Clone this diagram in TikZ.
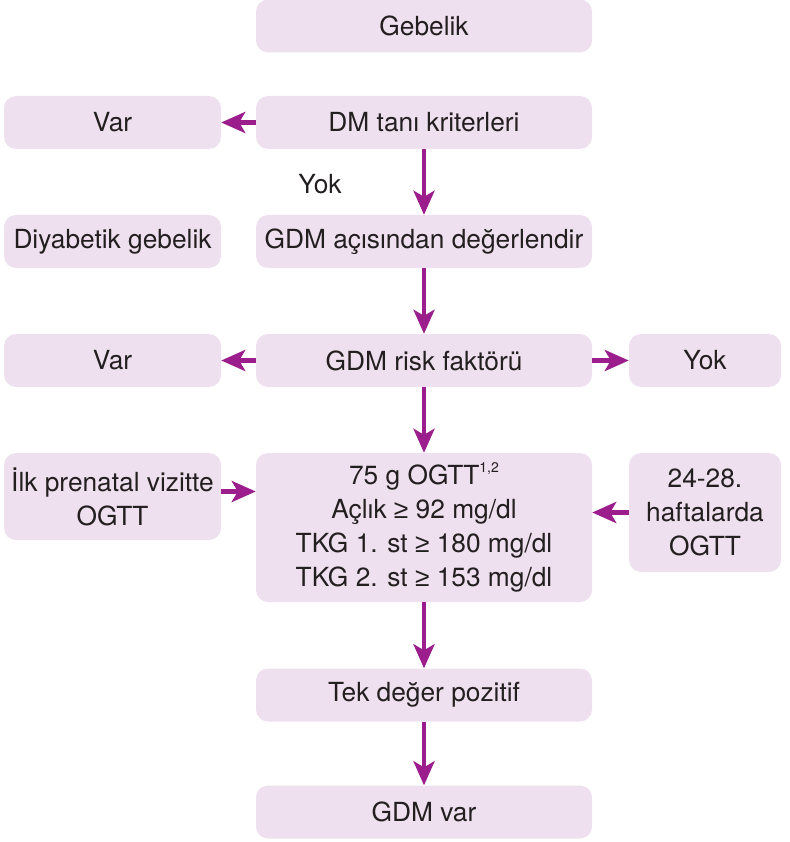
\documentclass[tikz,border=0pt]{standalone}
\usepackage{fontspec}
\setmainfont{TeX Gyre Heros}
\newfontfamily\symfont{Liberation Sans}
\usetikzlibrary{arrows.meta}
\definecolor{boxfill}{HTML}{EEE0EE}
\definecolor{arr}{HTML}{9C1E8C}
\definecolor{txt}{HTML}{231F20}
\newcommand{\gq}{{\symfont ≥}}
\tikzset{
 box/.style={fill=boxfill, rounded corners=12pt, inner sep=0pt, align=center,
   font=\fontsize{26.3}{34}\selectfont, text=txt},
 wide/.style={box, minimum width=336pt, minimum height=53pt},
 side/.style={box, minimum width=217pt, minimum height=53pt},
 conn/.style={draw=arr, line width=4.5pt, -{Stealth[length=24pt,width=21pt,inset=6pt]}},
}
\begin{document}
\begin{tikzpicture}[x=1pt,y=-1pt]
\useasboundingbox (0,0) rectangle (789,842);
\node[wide] (geb) at (424,26) {Gebelik};
\node[wide] (dm) at (424,122.5) {DM tanı kriterleri};
\node[side] (var1) at (112.5,122.5) {Var};
\node[font=\fontsize{26.3}{34}\selectfont, text=txt] (yok1) at (320,184) {Yok};
\node[side] (diy) at (112.5,241.5) {Diyabetik gebelik};
\node[wide] (gdm) at (424,241.5) {GDM açısından değerlendir};
\node[side] (var2) at (112.5,360.5) {Var};
\node[wide] (risk) at (424,360.5) {GDM risk faktörü};
\node[box, minimum width=152pt, minimum height=53pt] (yok2) at (705,360.5) {Yok};
\node[side, minimum height=87pt] (ilk) at (112.5,496.5) {İlk prenatal vizitte\\OGTT};
\node[wide, minimum height=149pt] (ogtt) at (424,527.5)
  {75 g OGTT\raisebox{0.45em}{\fontsize{14}{14}\selectfont 1,2}\\Açlık \gq{} 92 mg/dl\\TKG 1. st \gq{} 180 mg/dl\\TKG 2. st \gq{} 153 mg/dl};
\node[box, minimum width=152pt, minimum height=119pt] (haf) at (705,512.5) {24-28.\\haftalarda\\OGTT};
\node[wide] (tek) at (424,695) {Tek değer pozitif};
\node[wide] (var3) at (424,812) {GDM var};
\draw[conn] (dm.west) -- (var1.east);
\draw[conn] (dm.south) -- (gdm.north);
\draw[conn] (gdm.south) -- (risk.north);
\draw[conn] (risk.west) -- (var2.east);
\draw[conn] (risk.east) -- (yok2.west);
\draw[conn] (risk.south) -- (ogtt.north);
\coordinate (ilkE) at ([yshift=5pt]ilk.east);
\draw[conn] (ilkE) -- (ilkE -| ogtt.west);
\draw[conn] (haf.west) -- (haf.west -| ogtt.east);
\draw[conn] (ogtt.south) -- (tek.north);
\draw[conn] (tek.south) -- (var3.north);
\end{tikzpicture}
\end{document}
